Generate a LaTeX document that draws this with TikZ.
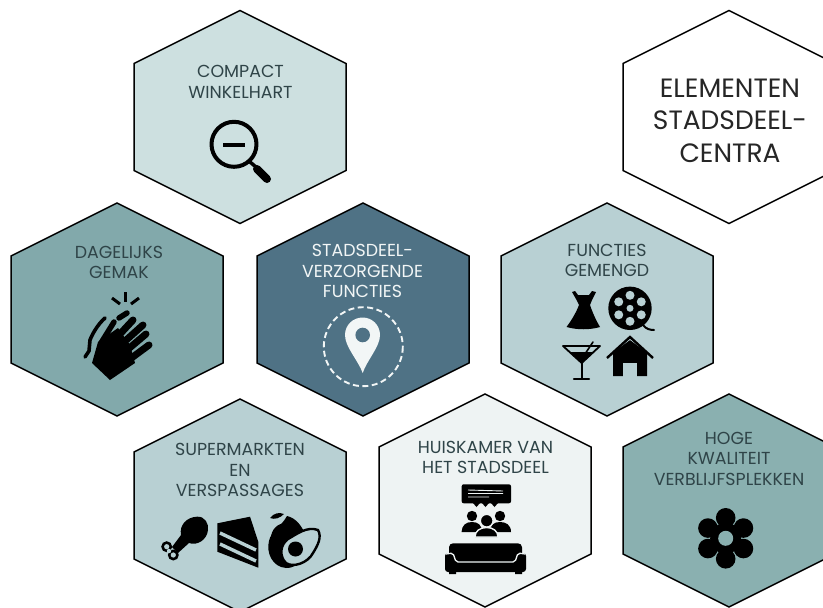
\documentclass[tikz,border=0pt]{standalone}
\usepackage{fontspec}
\setmainfont{Poppins}
\definecolor{hexpale}{HTML}{CDE0E0}
\definecolor{hexmid}{HTML}{82A9AB}
\definecolor{hexdark}{HTML}{4F7285}
\definecolor{hexlight}{HTML}{B8D0D3}
\definecolor{hexwhite}{HTML}{EEF3F3}
\definecolor{hexteal}{HTML}{8AB0B0}
\definecolor{ink}{HTML}{2F4448}
\definecolor{paper}{HTML}{F2F6F6}
\tikzset{
  hexa/.style={draw=black,line width=1.5pt,line join=miter},
  label/.style={text=ink,align=center,inner sep=0pt,font=\fontsize{17.4}{20.5}\selectfont},
  icon/.style={fill=black,draw=none},
  ico/.style={draw=black,line cap=round,line join=round},
}
\newcommand\hexagonat[3]{%
  \path[hexa,fill=#3] (#1,#2-106.5) -- (#1+106,#2-53.5) -- (#1+106,#2+53.5) -- (#1,#2+106.5)
    -- (#1-106,#2+53.5) -- (#1-106,#2-53.5) -- cycle;}
\begin{document}
\begin{tikzpicture}[x=1pt,y=-1pt]
\useasboundingbox (0,0) rectangle (823,608);
\clip (0,0) rectangle (823,608);
\fill[white] (0,0) rectangle (823,608);

\hexagonat{240}{117}{hexpale}
\hexagonat{117}{309.5}{hexmid}
\hexagonat{363}{309.5}{hexdark}
\hexagonat{607}{309.5}{hexlight}
\hexagonat{240}{505.5}{hexlight}
\hexagonat{485}{500.5}{hexwhite}
\hexagonat{729}{500.5}{hexteal}
\hexagonat{729}{117}{white}

% texts
\node[label] (compact) at (240.5,82) {COMPACT\\WINKELHART};
\node[label] (dagelijks) at (119,262.5) {DAGELIJKS\\GEMAK};
\node[label,text=paper] (stadsdeel) at (362.5,271) {STADSDEEL-\\VERZORGENDE\\FUNCTIES};
\node[label] (functies) at (607,260.5) {FUNCTIES\\GEMENGD};
\node[label] (super) at (240,470) {SUPERMARKTEN\\EN\\VERSPASSAGES};
\node[label] (huis) at (485.5,457.5) {HUISKAMER VAN\\HET STADSDEEL};
\node[label] (hoge) at (729,458.5) {HOGE\\KWALITEIT\\VERBLIJFSPLEKKEN};
\node[label,text=black!85,font=\fontsize{26.5}{32.5}\selectfont] (elementen) at (730,120.5) {ELEMENTEN\\STADSDEEL-\\CENTRA};

% magnifier
\draw[ico,line width=4pt] (234,144.3) circle[radius=22.5];
\draw[ico,line width=4pt,line cap=butt] (223,144.5) -- (245,144.5);
\draw[ico,line width=3.5pt] (250,162) -- (256,167);
\draw[ico,line width=8pt] (257,169) -- (267,179);

% clapping hands
\draw[ico,line width=3pt,line cap=butt] (125,292) -- (125,302);
\draw[ico,line width=3pt,line cap=butt] (112,298) -- (120,304);
\draw[ico,line width=3pt,line cap=butt] (139,298) -- (131,304);
\draw[ico,line width=5.5pt] (119,318) -- (127,313);
\draw[ico,line width=3.6pt] (105,318) .. controls (97,325) and (92,335) .. (90,340) -- (89,351) -- (85,357);
\fill[icon] (98,342) -- (92,363) -- (110,380) -- (135,363) -- (130,345) -- (118,328) -- cycle;
\draw[ico,line width=5.5pt] (101,343) -- (114,322);
\draw[ico,line width=7pt] (108,347) -- (133,320);
\draw[ico,line width=7pt] (114,351) -- (143,325);
\draw[ico,line width=7pt] (120,356) -- (146,334);
\draw[ico,line width=7pt] (126,362) -- (149,345);

% location pin
\draw[paper,line width=1.9pt,dash pattern=on 6pt off 3.5pt] (363.3,346.7) circle[radius=39.5];
\fill[paper] (362.7,373) .. controls (358,360) and (345,347) .. (345,335)
  .. controls (345,325) and (353,317.5) .. (362.7,317.5)
  .. controls (372,317.5) and (380,325) .. (380,335)
  .. controls (380,347) and (367,360) .. (362.7,373) -- cycle;
\fill[hexdark] (362.7,335) circle[radius=7.3];

% dress
\fill[icon] (572,292) -- (575,291) -- (578,295) -- (589,295) -- (592,291) -- (596,292) -- (592,300)
  -- (590,305) .. controls (593,314) and (597,322) .. (600,327) .. controls (590,330) and (577,330) .. (566.5,327)
  .. controls (571,321) and (576,313) .. (579,305) -- (576,299) -- cycle;

% film reel
\fill[icon] (630,308.3) circle[radius=21.7];
\foreach \a in {30,90,150,210,270,330}
  \fill[hexlight] (630,308.3) ++(\a:13) circle[radius=4.5];
\fill[hexlight] (630,308.3) circle[radius=3.5];
\draw[ico,line width=2pt] (643,325) .. controls (646,329) and (650,330) .. (654,330);

% cocktail
\draw[ico,line width=1.8pt] (563,346) -- (600,346) -- (581.7,363) -- cycle;
\fill[icon] (569,352) -- (594,352) -- (581.7,363) -- cycle;
\draw[ico,line width=2pt] (581.7,363) -- (581.7,378);
\draw[ico,line width=2.2pt] (574,379) -- (589,379);
\draw[ico,line width=1.6pt] (593,342) -- (583,357);

% house
\fill[icon] (613,352) -- (630,340) -- (647,352) -- (647,376) -- (613,376) -- cycle;
\fill[hexlight] (623,363) rectangle (637,377);
\draw[hexlight,line width=1.2pt] (610,354) -- (630,339) -- (650,354);
\draw[ico,line width=2.4pt,line cap=butt,line join=miter] (607,358) -- (630,337) -- (653,358);

% drumstick
\fill[icon] (197,516.7) .. controls (205,516) and (209,524) .. (208,530)
  .. controls (207,540) and (197,546) .. (189,543) -- (178,553) -- (172,547) -- (181,535)
  .. controls (179,525) and (187,517) .. (197,516.7) -- cycle;
\fill[icon] (166.7,546.7) circle[radius=5.5] (173.3,555) circle[radius=5.5];
\fill[hexlight] (166.7,546.7) circle[radius=2.6] (173.3,555) circle[radius=2.6];
\fill[hexlight] (169,551) circle[radius=2.2];

% cake
\fill[icon] (217.3,523.3) -- (250,516.7) -- (258.3,541.7) -- (258.3,567.7) -- (217.3,551.7) -- cycle;
\draw[hexlight,line width=3.4pt] (220,533) -- (256,550);
\draw[hexlight,line width=3.4pt] (220,544) -- (256,561);

% avocado
\fill[icon] (287,516) .. controls (296,518) and (302,526) .. (306,536)
  .. controls (309,552) and (302,568) .. (286,568) .. controls (272,567) and (266,552) .. (269,541)
  .. controls (271,531) and (281,527) .. (287,516) -- cycle;
\fill[icon] (286,538) circle[radius=15];
\fill[icon] (270,518) .. controls (274,513) and (279,512) .. (284,514) .. controls (280,518) and (275,520) .. (270,518) -- cycle;
\path[fill=hexlight,draw=black,line width=2.4pt] (318,530) .. controls (322,537) and (318,545) .. (313,553)
  .. controls (308,563) and (293,568) .. (286,563) .. controls (279,556) and (280,545) .. (288,539)
  .. controls (297,534) and (307,526) .. (318,530) -- cycle;
\fill[icon] (295.5,549) circle[radius=7.5];

% speech bubble
\fill[icon,rounded corners=2pt] (461.7,484.3) rectangle (511,503.3);
\draw[hexwhite,line width=0.9pt] (468,490) -- (503,491) (468,493.5) -- (503,493.5) (468,497) -- (489,497);
\fill[icon] (473,503) -- (480,503) -- (476.5,507) -- cycle;
\fill[icon] (482,503) -- (489,503) -- (485.5,507) -- cycle;
\fill[icon] (491,503) -- (498,503) -- (494.5,507) -- cycle;

% people
\fill[icon] (472,516) circle[radius=5.2] (500,516) circle[radius=5.2];
\fill[icon] (461.5,532) .. controls (462,525) and (466,522) .. (472,522) .. controls (478,522) and (482,525) .. (482,532) -- cycle;
\fill[icon] (490,532) .. controls (490,525) and (494,522) .. (500,522) .. controls (506,522) and (511,525) .. (511,532) -- cycle;
\draw[hexwhite,line width=1.4pt,fill=black] (486.7,520.7) circle[radius=6.4];
\draw[hexwhite,line width=1.4pt,fill=black] (475,537) .. controls (475,531) and (480,527.5) .. (486.7,527.5) .. controls (493,527.5) and (498,531) .. (498,537) -- cycle;

% sofa
\fill[icon,rounded corners=4pt] (449,543.3) rectangle (522,566);
\fill[icon,rounded corners=3pt] (445,553) rectangle (526,572);
\fill[icon] (449,571) rectangle (456,574) (515,571) rectangle (522,574);
\draw[hexwhite,line width=1.3pt,rounded corners=2pt] (446,554) -- (453,553) -- (456,562) -- (515,562) -- (518,553) -- (525,554);

% flower
\foreach \a in {30,90,150,210,270,330}
  \fill[icon] (725.7,538.3) ++(\a:20.5) circle[radius=9.8];
\fill[icon] (725.7,538.3) circle[radius=15.5];
\fill[hexteal] (725.7,538.3) circle[radius=7.5];
\end{tikzpicture}
\end{document}
